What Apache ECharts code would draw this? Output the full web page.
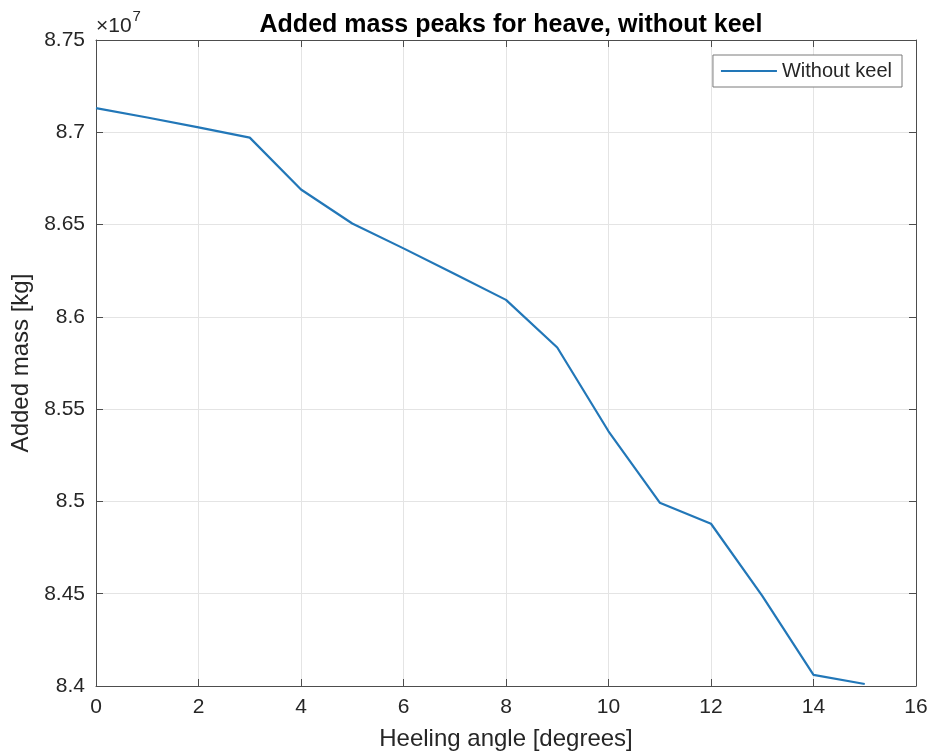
<!DOCTYPE html>
<html>
<head>
<meta charset="utf-8">
<script src="https://cdn.jsdelivr.net/npm/echarts@6/dist/echarts.min.js"></script>
<style>
  html, body { margin: 0; padding: 0; background: #ffffff; }
  #chart { width: 931px; height: 756px; }
</style>
</head>
<body>
<div id="chart"></div>
<script>
// Heeling angle (degrees) and added mass peak for heave (kg)
const heelingAngles = [0, 1, 2, 3, 4, 5, 6, 7, 8, 9, 10, 11, 12, 13, 14, 15];
const addedMassWithoutKeel = [
  87131000, 87080000, 87027000, 86971000, 86690000, 86506000, 86371000, 86232000,
  86092000, 85834000, 85380000, 84993000, 84879000, 84488000, 84060000, 84011000
];
const xTicks = [0, 2, 4, 6, 8, 10, 12, 14, 16];
const yScale = 1e7;

const seriesData = heelingAngles.map((a, i) => [a, addedMassWithoutKeel[i]]);

const axisColor = '#4d4d4d';
const textColor = '#262626';
const lineColor = '#2277b8';
const fontFamily = 'Liberation Sans, Arial, Helvetica, sans-serif';

const chart = echarts.init(document.getElementById('chart'), null, { renderer: 'canvas' });

const baseX = {
  type: 'value', min: xTicks[0], max: xTicks[xTicks.length - 1], interval: xTicks[1] - xTicks[0],
  axisLine: { show: true, onZero: false, lineStyle: { color: axisColor, width: 1 } },
  axisTick: { show: true, inside: true, length: 7, lineStyle: { color: axisColor } },
};
const baseY = {
  type: 'value', min: 84000000, max: 87500000, interval: 500000,
  axisLine: { show: true, onZero: false, lineStyle: { color: axisColor, width: 1 } },
  axisTick: { show: true, inside: true, length: 7, lineStyle: { color: axisColor } },
};

chart.setOption({
  backgroundColor: '#ffffff',
  animation: false,
  title: {
    text: 'Added mass peaks for heave, without keel',
    left: 506, top: 8, textAlign: 'center',
    textStyle: { fontFamily, fontSize: 25, fontWeight: 'bold', color: '#000000' }
  },
  grid: { left: 96, right: 15, top: 40, bottom: 69, containLabel: false },
  legend: {
    right: 29, top: 55,
    data: [{ name: 'Without keel', icon: 'rect' }],
    itemWidth: 56, itemHeight: 2, itemGap: 6,
    padding: [6, 10, 6, 8],
    borderColor: '#7a7a7a', borderWidth: 1, borderRadius: 0,
    backgroundColor: '#ffffff',
    textStyle: { fontFamily, fontSize: 20, color: textColor }
  },
  xAxis: [
    Object.assign({}, baseX, {
      position: 'bottom',
      name: 'Heeling angle [degrees]', nameLocation: 'middle', nameGap: 41,
      nameTextStyle: { fontFamily, fontSize: 24, color: textColor },
      axisLabel: { show: true, margin: 11, fontFamily, fontSize: 21, color: textColor },
      splitLine: { show: true, lineStyle: { color: '#e4e4e4', width: 1 } }
    }),
    Object.assign({}, baseX, {
      position: 'top',
      axisLabel: { show: false },
      splitLine: { show: false }
    })
  ],
  yAxis: [
    Object.assign({}, baseY, {
      position: 'left',
      name: 'Added mass [kg]', nameLocation: 'middle', nameGap: 57,
      nameTextStyle: { fontFamily, fontSize: 24, color: textColor },
      axisLabel: {
        show: true, margin: 11, fontFamily, fontSize: 21, color: textColor,
        formatter: v => {
          const s = (v / yScale).toFixed(2);
          return s.replace(/0$/, '');
        }
      },
      splitLine: { show: true, lineStyle: { color: '#e4e4e4', width: 1 } }
    }),
    Object.assign({}, baseY, {
      position: 'right',
      axisLabel: { show: false },
      splitLine: { show: false }
    })
  ],
  graphic: [{
    type: 'text',
    left: 96, top: 9,
    style: {
      text: '{b|×10}{s|7}',
      rich: {
        b: { fontFamily, fontSize: 21, fill: textColor, verticalAlign: 'bottom', lineHeight: 28 },
        s: { fontFamily, fontSize: 15, fill: textColor, verticalAlign: 'top', lineHeight: 16, padding: [0, 0, 11, 1] }
      }
    }
  }],
  series: [{
    name: 'Without keel',
    type: 'line',
    xAxisIndex: 0, yAxisIndex: 0,
    data: seriesData,
    showSymbol: false,
    lineStyle: { color: lineColor, width: 2.2 },
    itemStyle: { color: lineColor }
  }]
});
</script>
</body>
</html>
